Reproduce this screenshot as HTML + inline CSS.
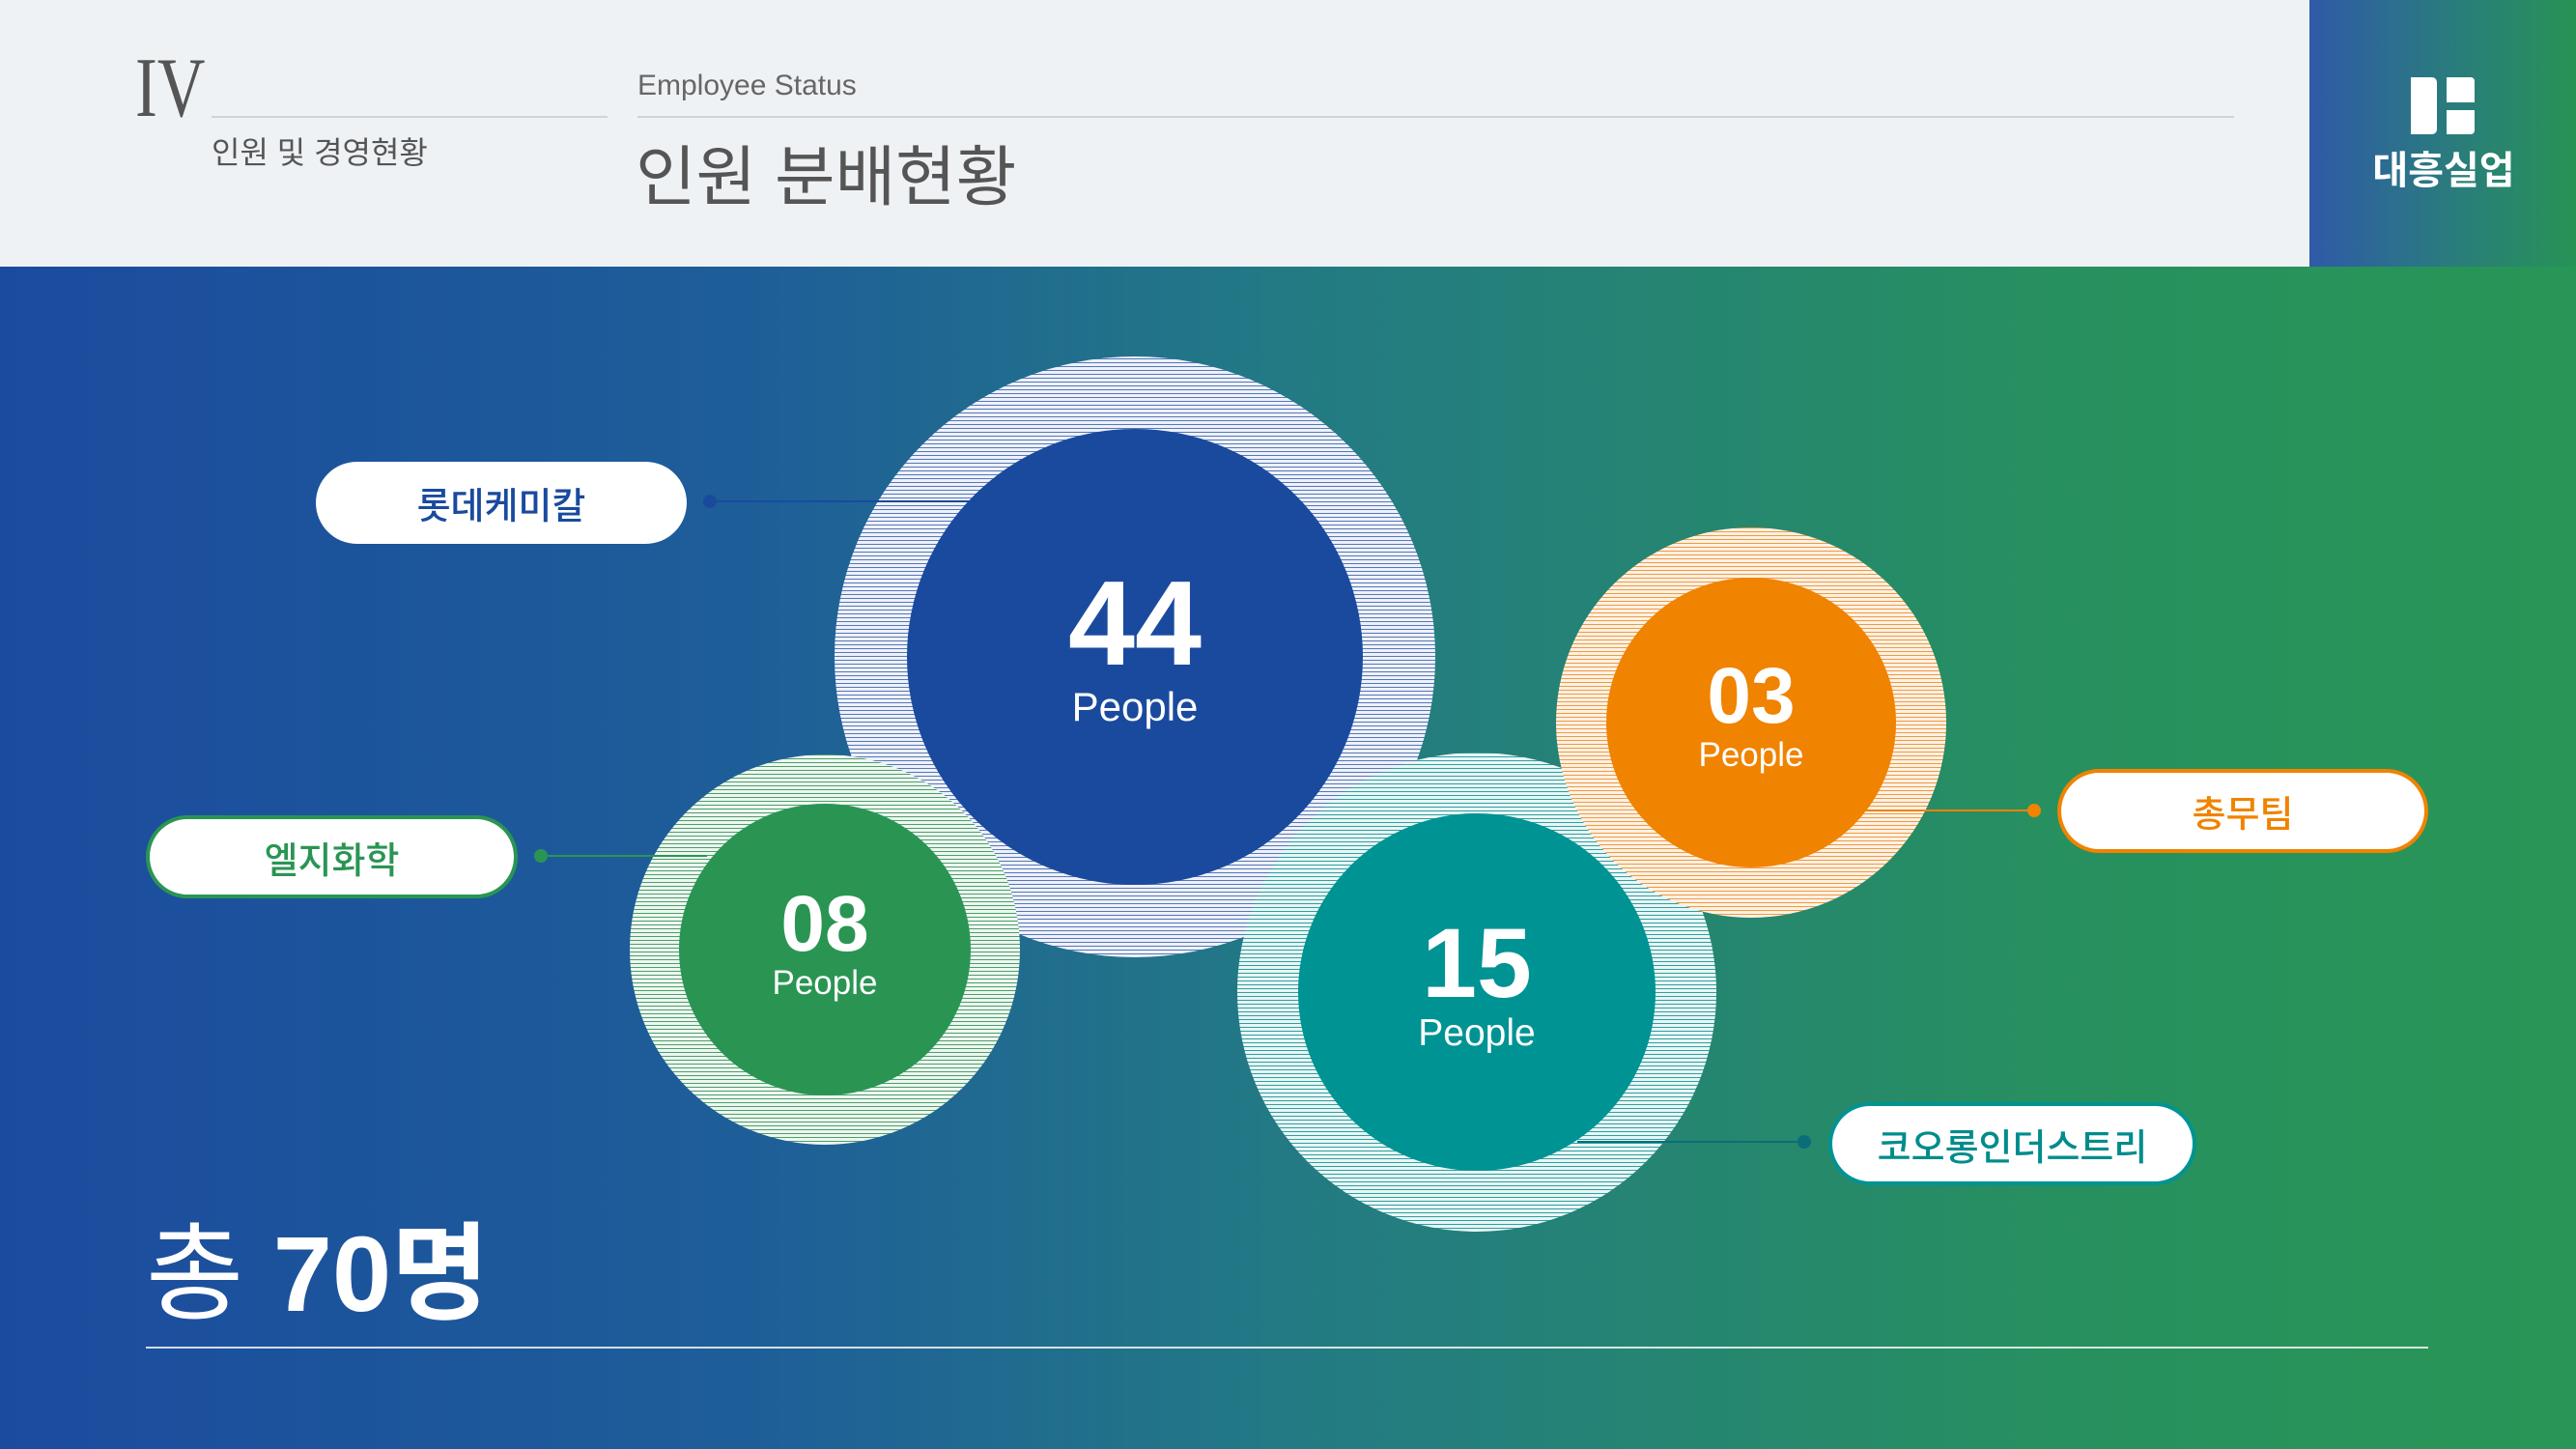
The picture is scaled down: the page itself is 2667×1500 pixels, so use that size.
<!DOCTYPE html>
<html><head><meta charset="utf-8"><style>
*{margin:0;padding:0;box-sizing:border-box}
body{width:2667px;height:1500px;position:relative;overflow:hidden;font-family:"Liberation Sans","Noto Sans CJK KR",sans-serif}
.abs{position:absolute}
#hdr{left:0;top:0;width:2667px;height:276px;background:#eff2f5}
#logo{left:2391px;top:0;width:276px;height:276px;background:linear-gradient(90deg,#2f5aa8,#2a7a80 50%,#279355)}
#main{left:0;top:276px;width:2667px;height:1224px;background:linear-gradient(90deg,#1b4b9f 0%,#1e5f98 30%,#237a84 50%,#27905f 80%,#289656 100%)}
.ring{position:absolute;border-radius:50%}
.inner{position:absolute;border-radius:50%;color:#fff;text-align:center;display:flex;flex-direction:column;justify-content:center;align-items:center}
.pill{position:absolute;background:#fff;border-radius:45px;display:flex;align-items:center;justify-content:center;font-size:38px;font-weight:500}
.ln{position:absolute;height:2px}
.dot{position:absolute;width:14px;height:14px;border-radius:50%}
</style></head><body>
<div id="hdr" class="abs"></div>
<div class="abs" style="left:140px;top:48px;font-family:'Liberation Serif',serif;font-size:88px;color:#555;line-height:1;transform:scaleX(0.78);transform-origin:left top">IV</div>
<div class="abs" style="left:219px;top:120px;width:410px;height:2px;background:#d0d3d8"></div>
<div class="abs" style="left:219px;top:133px;font-size:32px;color:#555">인원 및 경영현황</div>
<div class="abs" style="left:660px;top:72px;font-size:30px;color:#666">Employee Status</div>
<div class="abs" style="left:660px;top:120px;width:1653px;height:2px;background:#d0d3d8"></div>
<div class="abs" style="left:658px;top:128px;font-size:68px;color:#555">인원 분배현황</div>
<div id="logo" class="abs"></div>
<div class="abs" style="left:2496px;top:80px;width:27px;height:59px;background:#fff;border-radius:0 5px 5px 0"></div>
<div class="abs" style="left:2533px;top:80px;width:29px;height:26px;background:#fff;border-radius:0 4px 0 0"></div>
<div class="abs" style="left:2533px;top:114px;width:29px;height:25px;background:#fff;border-radius:0 0 4px 0"></div>
<div class="abs" style="left:2440px;top:144px;width:180px;text-align:center;font-size:40px;font-weight:bold;color:#fff">대흥실업</div>
<div id="main" class="abs"></div>

<div class="ring" style="left:864px;top:369px;width:622px;height:622px;background:repeating-linear-gradient(0deg,#eef1f8 0 3px,#5577bb 3px 4px)"></div>
<div class="ring" style="left:652px;top:781px;width:404px;height:404px;background:repeating-linear-gradient(0deg,#eef6f0 0 3px,#4aa06a 3px 4px)"></div>
<div class="ring" style="left:1281px;top:779px;width:496px;height:496px;background:repeating-linear-gradient(0deg,#eaf5f5 0 3px,#2aa2a0 3px 4px)"></div>
<div class="inner" style="left:939px;top:444px;width:472px;height:472px;background:#1a4a9e">
<div style="font-size:124px;font-weight:bold;line-height:1;margin-top:-20px">44</div><div style="font-size:42px">People</div></div>
<div class="inner" style="left:703px;top:832px;width:302px;height:302px;background:#2a9553">
<div style="font-size:82px;font-weight:bold;line-height:1;margin-top:-12px">08</div><div style="font-size:35px">People</div></div>
<div class="inner" style="left:1344px;top:842px;width:370px;height:370px;background:#009393">
<div style="font-size:102px;font-weight:bold;line-height:1;margin-top:-16px">15</div><div style="font-size:39px">People</div></div>
<div class="ring" style="left:1611px;top:546px;width:404px;height:404px;background:repeating-linear-gradient(0deg,#fbf1e6 0 3px,#f39a3a 3px 4px)"></div>
<div class="inner" style="left:1663px;top:598px;width:300px;height:300px;background:#f08300">
<div style="font-size:82px;font-weight:bold;line-height:1;margin-top:-14px">03</div><div style="font-size:35px">People</div></div>

<div class="ln" style="left:735px;top:518px;width:270px;background:#1a4a9e"></div>
<div class="dot" style="left:728px;top:512px;background:#1a4a9e"></div>
<div class="pill" style="left:327px;top:478px;width:384px;height:85px;color:#1a4a9e">롯데케미칼</div>

<div class="ln" style="left:560px;top:885px;width:172px;background:#2a9553"></div>
<div class="dot" style="left:553px;top:879px;background:#2a9553"></div>
<div class="pill" style="left:151px;top:844px;width:385px;height:86px;color:#2a9553;border:4px solid #2a9553">엘지화학</div>

<div class="ln" style="left:1922px;top:838px;width:184px;background:#f08300"></div>
<div class="dot" style="left:2099px;top:832px;background:#f08300"></div>
<div class="pill" style="left:2130px;top:796px;width:384px;height:87px;color:#f08300;border:4px solid #f08300">총무팀</div>

<div class="ln" style="left:1633px;top:1181px;width:235px;background:#0a6e78"></div>
<div class="dot" style="left:1861px;top:1175px;background:#0a6e78"></div>
<div class="pill" style="left:1893px;top:1141px;width:381px;height:86px;color:#008c8c;border:4px solid #009393">코오롱인더스트리</div>

<div class="abs" style="left:151px;top:1254px;font-size:110px;color:#fff;line-height:1.2;white-space:nowrap">총 <b>70명</b></div>
<div class="abs" style="left:151px;top:1394px;width:2363px;height:2px;background:rgba(255,255,255,0.8)"></div>
</body></html>
